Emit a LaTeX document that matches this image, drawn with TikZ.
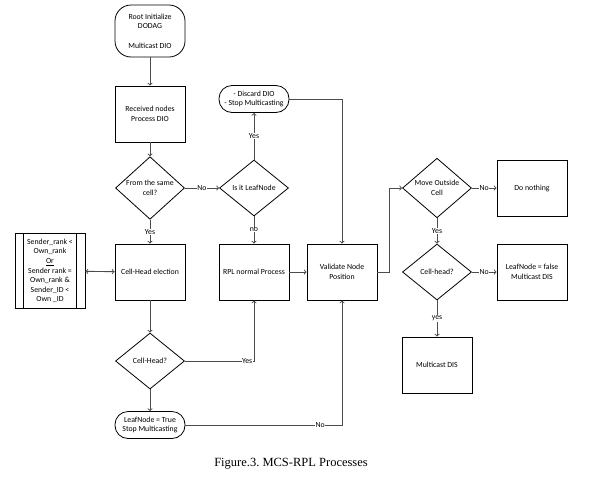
\documentclass[tikz,border=0pt]{standalone}
\usepackage{fontspec}
\setmainfont{Carlito}
\newfontfamily\captionfont{Liberation Serif}
\usetikzlibrary{shapes,arrows,positioning,calc}

\tikzset{
  procbox/.style={draw, line width=0.8pt, minimum width=70pt, minimum height=56pt, align=center, inner sep=1pt},
  terminal/.style={draw, line width=0.8pt, rounded corners=13pt, minimum width=70pt, minimum height=27pt, align=center, inner sep=1pt},
  decision/.style={draw, diamond, line width=0.8pt, minimum width=69pt, minimum height=56pt, align=center, inner sep=0pt},
  flow/.style={draw=black!70, line width=0.9pt, ->, >=to},
  lbl/.style={fill=white, inner sep=0.5pt}
}

\begin{document}
\begin{tikzpicture}[x=1pt, y=-1pt, font=\fontsize{7.8}{9.6}\selectfont]
\useasboundingbox[fill=white] (0,0) rectangle (596,485);

% left column
\node[terminal, minimum height=52pt, rounded corners=16pt] (root) at (150,31) {Root Initialize\\DODAG\\[9.6pt]Multicast DIO};
\node[procbox] (recv) at (150,114) {Received nodes\\Process DIO};
\node[decision] (samecell) at (150,188) {From the same\\cell?};
\node[procbox] (election) at (150,272) {Cell-Head election};
\node[decision] (chq) at (150,361) {Cell-Head?};
\node[terminal] (leaftrue) at (150,425) {LeafNode = True\\Stop Multicasting};

% condition box with side bars
\node[procbox, minimum height=75pt] (cond) at (50,271) {Sender\_rank <\\Own\_rank\\\underline{Or}\\Sender rank =\\Own\_rank \&\\Sender\_ID <\\Own \_ID};
\draw[line width=0.8pt] ([xshift=9pt]cond.north west) -- ([xshift=9pt]cond.south west)
  ([xshift=-9pt]cond.north east) -- ([xshift=-9pt]cond.south east);

% middle column
\node[terminal] (discard) at (254,99) {- Discard DIO\\- Stop Multicasting};
\node[decision] (isleaf) at (254,188) {Is it LeafNode};
\node[procbox] (rpl) at (254,272) {RPL normal Process};
\node[procbox] (validate) at (342,272) {Validate Node\\Position};

% right column
\node[decision] (moveout) at (437,188) {Move Outside\\Cell};
\node[procbox] (nothing) at (532,188) {Do nothing};
\node[decision] (cellhead) at (437,272) {Cell-head?};
\node[procbox] (leaffalse) at (532,272) {LeafNode = false\\Multicast DIS};
\node[procbox] (dis) at (437,365) {Multicast DIS};

\node[font=\captionfont\fontsize{12.5}{14}\selectfont] (caption) at (291,464) {Figure.3.\ MCS-RPL Processes};

% connectors
\draw[flow] (root) -- (recv);
\draw[flow] (recv) -- (samecell);
\draw[flow] (samecell) -- node[lbl] {Yes} (election);
\draw[flow] (samecell) -- node[lbl] {No} (isleaf);
\draw[flow] (isleaf) -- node[lbl] {Yes} (discard);
\draw[flow] (isleaf) -- node[lbl] {no} (rpl);
\draw[flow, <->] (cond) -- (election);
\draw[flow] (election) -- (chq);
\draw[flow] (chq) -- (leaftrue);
\draw[flow] (chq.east) -| node[lbl, pos=0.45] {Yes} (rpl.south);
\draw[flow] (leaftrue.east) -| node[lbl, pos=0.43] {No} (validate.south);
\draw[flow] (discard.east) -| (validate.north);
\draw[flow] (rpl) -- (validate);
\draw[flow] (validate.east) -- ++(12,0) |- (moveout.west);
\draw[flow] (moveout) -- node[lbl] {No} (nothing);
\draw[flow] (moveout) -- node[lbl] {Yes} (cellhead);
\draw[flow] (cellhead) -- node[lbl] {No} (leaffalse);
\draw[flow] (cellhead) -- node[lbl] {yes} (dis);
\end{tikzpicture}
\end{document}
